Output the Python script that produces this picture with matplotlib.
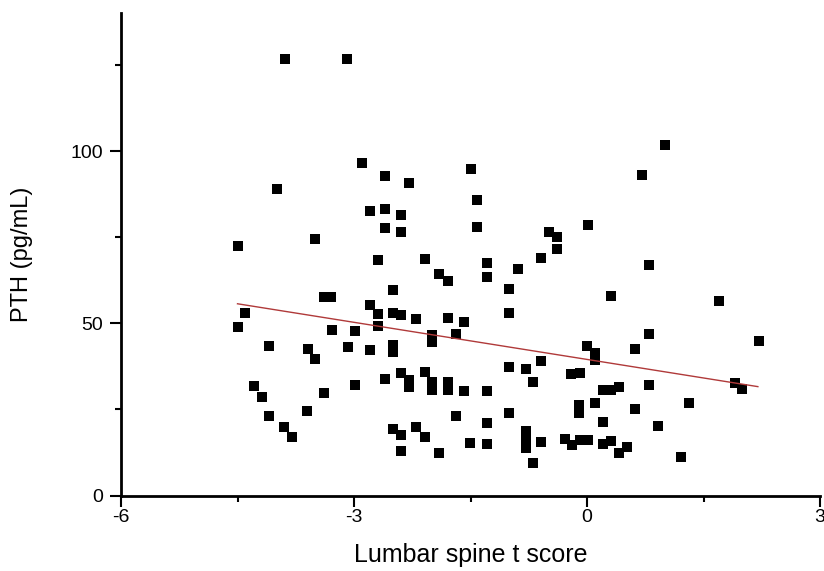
import matplotlib
matplotlib.use('Agg')
import matplotlib.pyplot as plt
import numpy as np
from matplotlib.ticker import MultipleLocator

# Lumbar spine t score (x) and PTH in pg/mL (y)
t_score = [
    -3.89, -3.09, 1.01, -2.90, -1.49, -2.60, 0.71, -2.29, -3.99, -1.42,
    -2.79, -2.60, -2.39, -2.60, -2.39, -1.42, 0.01, -3.50, -4.50, -0.49,
    -0.39, -0.39, -0.59, -2.69, -2.09, -1.29, -0.89, 0.80, -1.90, -1.79,
    -1.29, -1.00, -2.50, -3.38, -3.29, 0.31, 1.70, -2.79, -2.69, -2.50,
    -2.39, -2.20, -1.79, -1.59, -1.00, -4.40, -4.50, -2.69, -3.28, -2.99,
    -1.99, -1.99, -1.69, 0.80, 2.21, -4.10, -3.59, -3.50, -3.08, -2.79,
    -2.50, -2.50, 0.00, 0.10, 0.10, 0.62, -0.59, -1.00, -0.79, -0.70,
    -0.20, -0.09, -2.39, -2.29, -2.29, -2.09, -2.60, -1.99, -1.99, -1.79,
    -1.79, -1.59, -1.29, -2.99, -4.29, -4.19, -3.39, -4.10, -3.60, -3.90,
    -3.80, -2.50, -2.39, -2.20, -2.09, -2.39, -1.90, -1.69, -1.51, -1.29,
    -1.29, -1.00, -0.79, -0.79, -0.79, -0.59, -0.70, -0.28, -0.19, -0.09,
    0.01, -0.10, -0.10, 0.10, 0.20, 0.20, 0.31, 0.41, 0.20, 0.31,
    0.41, 0.51, 0.62, 0.80, 0.91, 1.21, 1.31, 1.91, 2.00,
]
pth = [
    126.7, 126.7, 101.7, 96.5, 94.7, 92.7, 93.0, 90.8, 89.1, 85.8,
    82.7, 83.3, 81.5, 77.6, 76.4, 77.9, 78.4, 74.5, 72.4, 76.6,
    74.9, 71.5, 68.8, 68.4, 68.6, 67.4, 65.8, 66.9, 64.3, 62.4,
    63.4, 60.0, 59.7, 57.7, 57.7, 58.0, 56.5, 55.2, 52.7, 53.1,
    52.4, 51.1, 51.4, 50.5, 53.1, 52.9, 48.8, 49.2, 48.0, 47.7,
    46.6, 44.7, 46.9, 46.8, 44.8, 43.3, 42.5, 39.6, 43.0, 42.2,
    43.7, 41.7, 43.4, 41.3, 39.2, 42.4, 39.0, 37.3, 36.7, 33.0,
    35.2, 35.6, 35.7, 33.5, 31.6, 35.9, 33.7, 33.0, 30.6, 33.0,
    30.6, 30.4, 30.4, 32.1, 31.9, 28.5, 29.8, 23.1, 24.6, 20.0,
    17.0, 19.2, 17.6, 19.9, 17.0, 12.9, 12.2, 23.1, 15.2, 15.0,
    21.0, 23.9, 18.7, 16.2, 13.8, 15.4, 9.4, 16.5, 14.7, 16.1,
    16.1, 26.3, 24.0, 26.9, 21.4, 30.6, 30.6, 31.6, 15.0, 15.8,
    12.3, 14.0, 25.0, 32.1, 20.2, 11.2, 26.9, 32.7, 30.8,
]

# Linear fit
fit_x_range = [-4.5, 2.2]
fit_slope = -3.59
fit_intercept = 39.5

x_ticks = [-6, -3, 0, 3]
y_ticks = [0, 50, 100]
x_label = "Lumbar spine t score"
y_label = "PTH (pg/mL)"

plt.rcParams['font.family'] = ['Liberation Sans', 'DejaVu Sans']
plt.rcParams['axes.unicode_minus'] = False

fig = plt.figure(figsize=(8.24, 5.71), dpi=100)
ax = fig.add_axes([121 / 824, 75.5 / 571, (820 - 121) / 824, 482.3 / 571])

ax.plot(t_score, pth, linestyle='none', marker='s', markersize=7.2,
        color='black', markeredgewidth=0)

fx = np.array(fit_x_range)
ax.plot(fx, fit_intercept + fit_slope * fx, color='#b03a3a', linewidth=1.0)

ax.set_xlim(-6, 3)
ax.set_ylim(0, 140)
ax.set_xticks(x_ticks)
ax.set_yticks(y_ticks)
ax.xaxis.set_minor_locator(MultipleLocator(1.5))
ax.yaxis.set_minor_locator(MultipleLocator(25))

for side in ['top', 'right']:
    ax.spines[side].set_visible(False)
for side in ['left', 'bottom']:
    ax.spines[side].set_linewidth(2.0)

ax.tick_params(which='major', length=8, width=1.5, direction='out',
               labelsize=14, colors='black')
ax.tick_params(which='minor', length=4.5, width=1.5, direction='out')
ax.tick_params(axis='x', which='major', pad=2)
ax.tick_params(axis='y', which='major', pad=5)

ax.set_xlabel(x_label, fontsize=18, labelpad=12)
ax.set_ylabel(y_label, fontsize=17, labelpad=27)

fig.savefig('out.png', dpi=100)
